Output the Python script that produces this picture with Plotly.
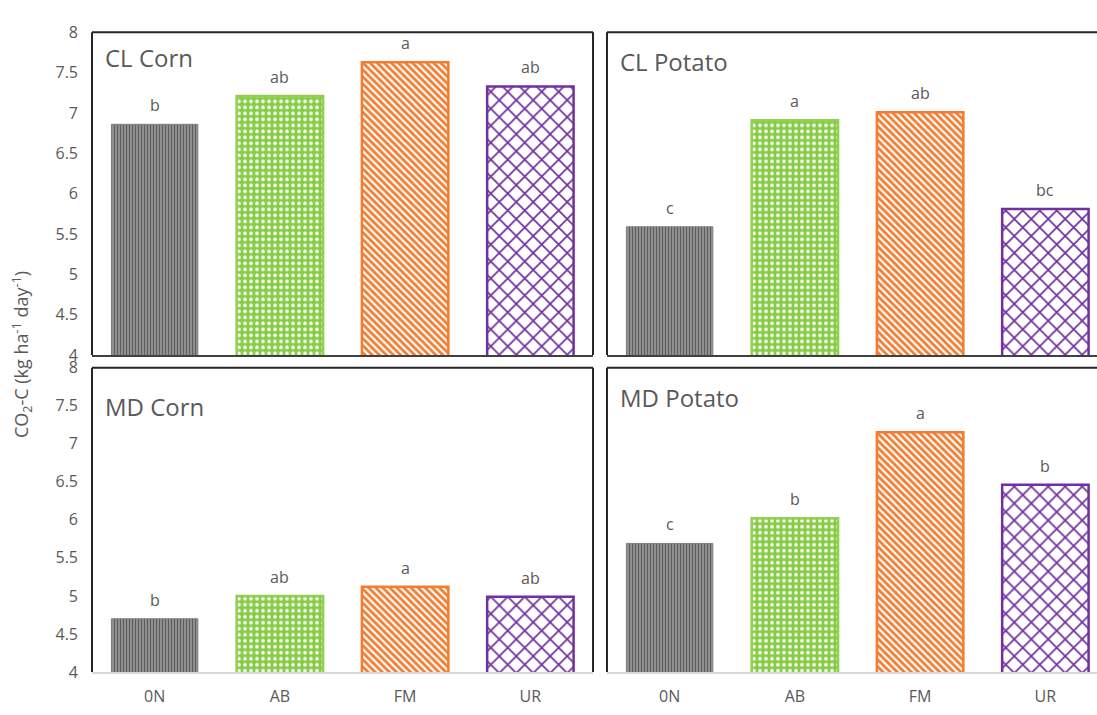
import plotly.graph_objects as go

# Treatments and mean CO2-C flux per site/crop
treatments = ["0N", "AB", "FM", "UR"]
cl_corn = [6.86, 7.21, 7.63, 7.33]
cl_potato = [5.59, 6.91, 7.01, 5.81]
md_corn = [4.70, 5.00, 5.12, 4.99]
md_potato = [5.69, 6.02, 7.15, 6.46]

cl_corn_letters = ["b", "ab", "a", "ab"]
cl_potato_letters = ["c", "a", "ab", "bc"]
md_corn_letters = ["b", "ab", "a", "ab"]
md_potato_letters = ["c", "b", "a", "b"]

panel_names = ["CL Corn", "CL Potato", "MD Corn", "MD Potato"]
y_ticks = [4, 4.5, 5, 5.5, 6, 6.5, 7, 7.5, 8]

W, H = 1097, 715
FONT = "Open Sans"
TXT = "#595959"

# per-treatment fill styles
styles = [
    dict(color="#808080", line="#7f7f7f", lw=1,
         pattern=dict(shape="|", fgcolor="#5c5c5c", bgcolor="#a8a8a8", size=3,
                      solidity=0.55, fgopacity=1)),
    dict(color="#92d050", line="#92d050", lw=2.5,
         pattern=dict(shape=".", fgcolor="#ffffff", bgcolor="#86cc44", size=6,
                      solidity=0.3, fgopacity=1)),
    dict(color="#f47c30", line="#f47c30", lw=2.5,
         pattern=dict(shape="\\", fgcolor="#f47c30", bgcolor="#ffffff", size=5,
                      solidity=0.55, fgopacity=1)),
    dict(color="#7030a0", line="#7030a0", lw=2.5,
         pattern=dict(shape="x", fgcolor="#7030a0", bgcolor="#ffffff", size=12,
                      solidity=0.26, fgopacity=1)),
]

def px_x(v):
    return v / W

def px_y(v):
    return 1 - v / H

x_left = [px_x(92), px_x(593)]
x_right = [px_x(607), 1.0]
y_top = [px_y(355), px_y(22)]
y_bot = [px_y(682), px_y(368)]
cat_w = (593 - 92) / 4.0
right_range = [-0.5, -0.5 + (W - 607) / cat_w]

panels = [
    (cl_corn, cl_corn_letters, x_left, y_top, [-0.5, 3.5]),
    (cl_potato, cl_potato_letters, x_right, y_top, right_range),
    (md_corn, md_corn_letters, x_left, y_bot, [-0.5, 3.5]),
    (md_potato, md_potato_letters, x_right, y_bot, right_range),
]

fig = go.Figure()
layout = dict(
    width=W, height=H,
    margin=dict(l=0, r=0, t=0, b=0),
    paper_bgcolor="white", plot_bgcolor="white",
    showlegend=False, bargap=0.31,
    font=dict(family=FONT, color=TXT),
)
annotations = []
shapes = []

for i, (vals, letters, xd, yd, xr) in enumerate(panels):
    n = i + 1
    xa = "x" if n == 1 else f"x{n}"
    ya = "y" if n == 1 else f"y{n}"
    for j, t in enumerate(treatments):
        s = styles[j]
        fig.add_trace(go.Bar(
            x=[t], y=[vals[j]], xaxis=xa, yaxis=ya,
            marker=dict(color=s["color"], pattern=s["pattern"],
                        line=dict(color=s["line"], width=s["lw"])),
            width=0.69, hoverinfo="skip",
        ))
        annotations.append(dict(
            x=t, y=vals[j], xref=xa, yref=ya, text=letters[j],
            showarrow=False, yanchor="bottom", yshift=6,
            font=dict(size=16, color=TXT, family=FONT),
        ))
    bottom = i >= 2
    left = i % 2 == 0
    layout["xaxis" if n == 1 else f"xaxis{n}"] = dict(
        domain=xd, anchor=ya, range=xr, type="category",
        categoryorder="array", categoryarray=treatments,
        showticklabels=bottom, ticks="", showgrid=False,
        showline=True, linecolor="#d9d9d9" if bottom else "#404040",
        linewidth=1.5 if bottom else 2, ticklabelstandoff=9,
        tickfont=dict(size=16, color=TXT, family=FONT),
    )
    layout["yaxis" if n == 1 else f"yaxis{n}"] = dict(
        domain=yd, anchor=xa, range=[4, 8], tickvals=y_ticks,
        ticktext=[f"{v:g}" for v in y_ticks],
        showticklabels=left, ticks="", showgrid=False, zeroline=False,
        showline=False, ticklabelstandoff=13,
        tickfont=dict(size=16, color=TXT, family=FONT),
    )
    # panel frame: top and left edges, plus right edge for the left column
    x0p, x1p = xd
    y0p, y1p = yd
    frame = dict(type="line", xref="paper", yref="paper",
                 line=dict(color="#262626", width=2))
    shapes.append(dict(frame, x0=x0p, x1=x1p, y0=y1p, y1=y1p))
    shapes.append(dict(frame, x0=x0p, x1=x0p, y0=y0p, y1=y1p))
    if left:
        shapes.append(dict(frame, x0=x1p, x1=x1p, y0=y0p, y1=y1p))
    # panel title
    title_y = {0: 48, 1: 52, 2: 408, 3: 399}[i]
    annotations.append(dict(
        x=x0p + px_x(11), y=px_y(title_y), xref="paper", yref="paper",
        text=panel_names[i], showarrow=False, xanchor="left", yanchor="middle",
        font=dict(size=24, color=TXT, family=FONT),
    ))

annotations.append(dict(
    x=px_x(22), y=px_y(355), xref="paper", yref="paper",
    text="CO<sub>2</sub>-C (kg ha<sup>-1</sup> day<sup>-1</sup>)",
    showarrow=False, textangle=-90, xanchor="center", yanchor="middle",
    font=dict(size=18, color=TXT, family=FONT),
))

layout["annotations"] = annotations
layout["shapes"] = shapes
fig.update_layout(**layout)
fig.write_html("out.html")
